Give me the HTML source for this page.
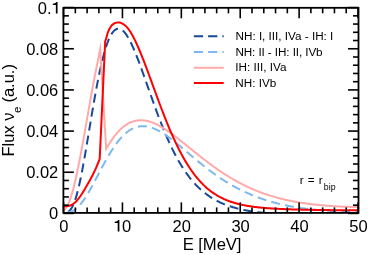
<!DOCTYPE html>
<html><head><meta charset="utf-8"><style>
html,body{margin:0;padding:0;background:#fff;}
svg{display:block;will-change:transform;font-family:"Liberation Sans",sans-serif;}
</style></head><body>
<svg width="368" height="255" viewBox="0 0 368 255">
<rect width="368" height="255" fill="#fff"/>
<defs><filter id="f" filterUnits="userSpaceOnUse" x="0" y="0" width="368" height="255" color-interpolation-filters="sRGB"><feOffset dx="0" dy="0"/></filter></defs>
<g filter="url(#f)">
<defs><clipPath id="c"><rect x="63.4" y="7.8" width="295.1" height="205.1"/></clipPath></defs>
<g clip-path="url(#c)" fill="none" stroke-width="2" stroke-linejoin="miter" stroke-miterlimit="10">
<path d="M63.31,212.50 L63.90,212.50 L64.49,212.49 L65.08,212.47 L65.68,212.43 L66.27,212.34 L66.86,212.21 L67.46,212.02 L68.05,211.75 L68.64,211.40 L69.24,210.95 L69.83,210.41 L70.42,209.75 L71.01,208.98 L71.61,208.09 L72.20,207.06 L72.79,205.91 L73.39,204.62 L73.98,203.20 L74.57,201.65 L75.16,199.95 L75.76,198.12 L76.35,196.16 L76.94,194.07 L77.54,191.85 L78.13,189.51 L78.72,187.04 L79.32,184.46 L79.91,181.78 L80.50,178.98 L81.09,176.09 L81.69,173.11 L82.28,170.03 L82.87,166.88 L83.47,163.66 L84.06,160.37 L84.65,157.02 L85.24,153.62 L85.84,150.17 L86.43,146.69 L87.02,143.17 L87.62,139.63 L88.21,136.07 L88.80,132.50 L89.39,128.93 L89.99,125.35 L90.58,121.79 L91.17,118.24 L91.77,114.70 L92.36,111.19 L92.95,107.72 L93.55,104.27 L94.14,100.87 L94.73,97.52 L95.32,94.21 L95.92,90.96 L96.51,87.77 L97.10,84.64 L97.70,81.57 L98.29,78.57 L98.88,75.65 L99.47,72.80 L100.07,70.03 L100.66,67.34 L101.25,64.73 L101.85,62.20 L102.44,59.77 L103.03,57.42 L103.63,55.16 L104.22,52.99 L104.81,50.91 L105.40,48.92 L106.00,47.03 L106.59,45.24 L107.18,43.53 L107.78,41.93 L108.37,40.42 L108.96,39.00 L109.55,37.69 L110.15,36.47 L110.74,35.35 L111.33,34.32 L111.93,33.39 L112.52,32.55 L113.11,31.80 L113.71,31.14 L114.30,30.57 L114.89,30.07 L115.48,29.66 L116.08,29.32 L116.67,29.06 L117.26,28.87 L117.86,28.75 L118.45,28.71 L119.04,28.73 L119.63,28.83 L120.23,28.99 L120.82,29.23 L121.41,29.54 L122.01,29.92 L122.60,30.37 L123.19,30.89 L123.78,31.47 L124.38,32.12 L124.97,32.82 L125.56,33.59 L126.16,34.41 L126.75,35.29 L127.34,36.21 L127.94,37.19 L128.53,38.22 L129.12,39.29 L129.71,40.40 L130.31,41.56 L130.90,42.75 L131.49,43.98 L132.09,45.25 L132.68,46.56 L133.27,47.90 L133.86,49.26 L134.46,50.66 L135.05,52.09 L135.64,53.54 L136.24,55.02 L136.83,56.52 L137.42,58.04 L138.02,59.58 L138.61,61.14 L139.20,62.72 L139.79,64.31 L140.39,65.92 L140.98,67.54 L141.57,69.18 L142.17,70.82 L142.76,72.48 L143.35,74.14 L143.94,75.81 L144.54,77.48 L145.13,79.16 L145.72,80.85 L146.32,82.53 L146.91,84.22 L147.50,85.91 L148.10,87.60 L148.69,89.29 L149.28,90.98 L149.87,92.66 L150.47,94.34 L151.06,96.02 L151.65,97.69 L152.25,99.35 L152.84,101.01 L153.43,102.66 L154.02,104.31 L154.62,105.94 L155.21,107.57 L155.80,109.19 L156.40,110.80 L156.99,112.39 L157.58,113.98 L158.17,115.55 L158.77,117.12 L159.36,118.67 L159.95,120.20 L160.55,121.73 L161.14,123.24 L161.73,124.74 L162.33,126.22 L162.92,127.69 L163.51,129.15 L164.10,130.59 L164.70,132.02 L165.29,133.43 L165.88,134.82 L166.48,136.20 L167.07,137.57 L167.66,138.91 L168.25,140.25 L168.85,141.56 L169.44,142.86 L170.03,144.15 L170.63,145.42 L171.22,146.67 L171.81,147.90 L172.41,149.12 L173.00,150.32 L173.59,151.51 L174.18,152.68 L174.78,153.83 L175.37,154.97 L175.96,156.09 L176.56,157.19 L177.15,158.28 L177.74,159.35 L178.33,160.41 L178.93,161.45 L179.52,162.47 L180.11,163.48 L180.71,164.47 L181.30,165.44 L181.89,166.40 L182.49,167.35 L183.08,168.28 L183.67,169.19 L184.26,170.09 L184.86,170.97 L185.45,171.84 L186.04,172.70 L186.64,173.53 L187.23,174.36 L187.82,175.17 L188.41,175.96 L189.01,176.75 L189.60,177.51 L190.19,178.27 L190.79,179.01 L191.38,179.74 L191.97,180.45 L192.56,181.15 L193.16,181.84 L193.75,182.51 L194.34,183.17 L194.94,183.82 L195.53,184.46 L196.12,185.09 L196.72,185.70 L197.31,186.30 L197.90,186.89 L198.49,187.47 L199.09,188.03 L199.68,188.59 L200.27,189.13 L200.87,189.67 L201.46,190.19 L202.05,190.70 L202.64,191.20 L203.24,191.69 L203.83,192.18 L204.42,192.65 L205.02,193.11 L205.61,193.58 L206.20,194.03 L206.80,194.48 L207.39,194.92 L207.98,195.35 L208.57,195.77 L209.17,196.18 L209.76,196.59 L210.35,196.98 L210.95,197.37 L211.54,197.75 L212.13,198.12 L212.72,198.49 L213.32,198.84 L213.91,199.19 L214.50,199.53 L215.10,199.87 L215.69,200.19 L216.28,200.51 L216.88,200.83 L217.47,201.13 L218.06,201.43 L218.65,201.73 L219.25,202.02 L219.84,202.30 L220.43,202.57 L221.03,202.84 L221.62,203.10 L222.21,203.36 L222.80,203.61 L223.40,203.86 L223.99,204.10 L224.58,204.34 L225.18,204.57 L225.77,204.79 L226.36,205.02 L226.96,205.23 L227.55,205.44 L228.14,205.65 L228.73,205.85 L229.33,206.05 L229.92,206.24 L230.51,206.44 L231.11,206.63 L231.70,206.82 L232.29,207.01 L232.88,207.19 L233.48,207.37 L234.07,207.55 L234.66,207.72 L235.26,207.89 L235.85,208.05 L236.44,208.21 L237.03,208.37 L237.63,208.52 L238.22,208.67 L238.81,208.82 L239.41,208.97 L240.00,209.11 L240.59,209.25 L241.19,209.38 L241.78,209.52 L242.37,209.65 L242.96,209.77 L243.56,209.90 L244.15,210.02 L244.74,210.14 L245.34,210.26 L245.93,210.38 L246.52,210.49 L247.11,210.60 L247.71,210.71 L248.30,210.81 L248.89,210.92 L249.49,211.02 L250.08,211.12 L250.67,211.22 L251.27,211.32 L251.86,211.41 L252.45,211.50 L253.04,211.59 L253.64,211.68 L254.23,211.77 L254.82,211.86 L255.42,211.93 L256.01,212.00 L256.60,212.07 L257.19,212.13 L257.79,212.20 L258.38,212.26 L258.97,212.32 L259.57,212.38 L260.16,212.44 L260.75,212.50 L261.35,212.55 L261.94,212.61 L262.53,212.66 L263.12,212.71 L263.72,212.76 L264.31,212.81 L264.90,212.86 L265.50,212.91 L266.09,212.96 L266.68,213.01 L267.27,213.05 L267.87,213.09 L268.46,213.14 L269.05,213.18 L269.65,213.22 L270.24,213.26 L270.83,213.30 L271.42,213.34 L272.02,213.38 L272.61,213.42 L273.20,213.45 L273.80,213.49 L274.39,213.52 L274.98,213.56 L275.58,213.59 L276.17,213.62 L276.76,213.66 L277.35,213.69 L277.95,213.72 L278.54,213.75 L279.13,213.78 L279.73,213.81 L280.32,213.83 L280.91,213.85 L281.50,213.87 L282.10,213.89 L282.69,213.91 L283.28,213.92 L283.88,213.94 L284.47,213.96 L285.06,213.97 L285.66,213.99 L286.25,214.00 L286.84,214.02 L287.43,214.03 L288.03,214.04 L288.62,214.06 L289.21,214.07 L289.81,214.08 L290.40,214.09 L290.99,214.10 L291.58,214.12 L292.18,214.13 L292.77,214.14 L293.36,214.15 L293.96,214.16 L294.55,214.17 L295.14,214.18 L295.74,214.19 L296.33,214.20 L296.92,214.21 L297.51,214.21 L298.11,214.22 L298.70,214.23 L299.29,214.24 L299.89,214.25 L300.48,214.25 L301.07,214.26 L301.66,214.27 L302.26,214.27 L302.85,214.28 L303.44,214.29 L304.04,214.29 L304.63,214.30 L305.22,214.31 L305.81,214.31 L306.41,214.32 L307.00,214.32 L307.59,214.33 L308.19,214.33 L308.78,214.34 L309.37,214.34 L309.97,214.35 L310.56,214.35 L311.15,214.36 L311.74,214.36 L312.34,214.36 L312.93,214.37 L313.52,214.37 L314.12,214.38 L314.71,214.38 L315.30,214.38 L315.89,214.39 L316.49,214.39 L317.08,214.39 L317.67,214.40 L318.27,214.40 L318.86,214.40 L319.45,214.41 L320.05,214.41 L320.64,214.41 L321.23,214.41 L321.82,214.42 L322.42,214.42 L323.01,214.42 L323.60,214.42 L324.20,214.43 L324.79,214.43 L325.38,214.43 L325.97,214.43 L326.57,214.43 L327.16,214.44 L327.75,214.44 L328.35,214.44 L328.94,214.44 L329.53,214.44 L330.13,214.45 L330.72,214.45 L331.31,214.45 L331.90,214.45 L332.50,214.45 L333.09,214.45 L333.68,214.45 L334.28,214.46 L334.87,214.46 L335.46,214.46 L336.05,214.46 L336.65,214.46 L337.24,214.46 L337.83,214.46 L338.43,214.46 L339.02,214.47 L339.61,214.47 L340.20,214.47 L340.80,214.47 L341.39,214.47 L341.98,214.47 L342.58,214.47 L343.17,214.47 L343.76,214.47 L344.36,214.47 L344.95,214.47 L345.54,214.48 L346.13,214.48 L346.73,214.48 L347.32,214.48 L347.91,214.48 L348.51,214.48 L349.10,214.48 L349.69,214.48 L350.28,214.48 L350.88,214.48 L351.47,214.48 L352.06,214.48 L352.66,214.48 L353.25,214.48 L353.84,214.48 L354.44,214.48 L355.03,214.49 L355.62,214.49 L356.21,214.49 L356.81,214.49 L357.40,214.49 L357.99,214.49 L358.59,214.49 L359.18,214.49" stroke="#18489a" stroke-dasharray="9 5.16" stroke-dashoffset="9.33"/>
<path d="M63.31,212.50 L63.90,212.50 L64.49,212.50 L65.08,212.49 L65.68,212.47 L66.27,212.44 L66.86,212.40 L67.46,212.34 L68.05,212.26 L68.64,212.16 L69.24,212.04 L69.83,211.89 L70.42,211.72 L71.01,211.52 L71.61,211.29 L72.20,211.04 L72.79,210.75 L73.39,210.44 L73.98,210.09 L74.57,209.71 L75.16,209.30 L75.76,208.86 L76.35,208.38 L76.94,207.88 L77.54,207.34 L78.13,206.77 L78.72,206.17 L79.32,205.55 L79.91,204.89 L80.50,204.20 L81.09,203.48 L81.69,202.74 L82.28,201.97 L82.87,201.17 L83.47,200.35 L84.06,199.50 L84.65,198.63 L85.24,197.73 L85.84,196.82 L86.43,195.88 L87.02,194.93 L87.62,193.95 L88.21,192.96 L88.80,191.95 L89.39,190.93 L89.99,189.89 L90.58,188.84 L91.17,187.77 L91.77,186.70 L92.36,185.61 L92.95,184.52 L93.55,183.41 L94.14,182.30 L94.73,181.19 L95.32,180.07 L95.92,178.94 L96.51,177.81 L97.10,176.68 L97.70,175.55 L98.29,174.42 L98.88,173.29 L99.47,172.16 L100.07,171.03 L100.66,169.90 L101.25,168.78 L101.85,167.67 L102.44,166.56 L103.03,165.45 L103.63,164.36 L104.22,163.27 L104.81,162.19 L105.40,161.11 L106.00,160.05 L106.59,159.00 L107.18,157.96 L107.78,156.93 L108.37,155.91 L108.96,154.91 L109.55,153.92 L110.15,152.94 L110.74,151.98 L111.33,151.03 L111.93,150.09 L112.52,149.18 L113.11,148.27 L113.71,147.38 L114.30,146.51 L114.89,145.66 L115.48,144.82 L116.08,144.00 L116.67,143.20 L117.26,142.41 L117.86,141.65 L118.45,140.90 L119.04,140.17 L119.63,139.46 L120.23,138.76 L120.82,138.09 L121.41,137.43 L122.01,136.79 L122.60,136.18 L123.19,135.58 L123.78,135.00 L124.38,134.44 L124.97,133.89 L125.56,133.37 L126.16,132.87 L126.75,132.38 L127.34,131.92 L127.94,131.47 L128.53,131.04 L129.12,130.64 L129.71,130.25 L130.31,129.88 L130.90,129.52 L131.49,129.19 L132.09,128.88 L132.68,128.58 L133.27,128.30 L133.86,128.04 L134.46,127.80 L135.05,127.57 L135.64,127.37 L136.24,127.18 L136.83,127.00 L137.42,126.85 L138.02,126.71 L138.61,126.59 L139.20,126.48 L139.79,126.39 L140.39,126.32 L140.98,126.26 L141.57,126.22 L142.17,126.20 L142.76,126.19 L143.35,126.19 L143.94,126.21 L144.54,126.25 L145.13,126.29 L145.72,126.36 L146.32,126.43 L146.91,126.52 L147.50,126.63 L148.10,126.74 L148.69,126.87 L149.28,127.02 L149.87,127.17 L150.47,127.34 L151.06,127.52 L151.65,127.71 L152.25,127.91 L152.84,128.13 L153.43,128.35 L154.02,128.59 L154.62,128.83 L155.21,129.09 L155.80,129.35 L156.40,129.63 L156.99,129.92 L157.58,130.21 L158.17,130.52 L158.77,130.83 L159.36,131.15 L159.95,131.48 L160.55,131.82 L161.14,132.16 L161.73,132.52 L162.33,132.88 L162.92,133.25 L163.51,133.62 L164.10,134.01 L164.70,134.40 L165.29,134.79 L165.88,135.19 L166.48,135.60 L167.07,136.01 L167.66,136.43 L168.25,136.86 L168.85,137.29 L169.44,137.72 L170.03,138.16 L170.63,138.60 L171.22,139.05 L171.81,139.51 L172.41,139.96 L173.00,140.42 L173.59,140.89 L174.18,141.35 L174.78,141.82 L175.37,142.30 L175.96,142.77 L176.56,143.25 L177.15,143.73 L177.74,144.22 L178.33,144.71 L178.93,145.19 L179.52,145.68 L180.11,146.18 L180.71,146.67 L181.30,147.17 L181.89,147.66 L182.49,148.16 L183.08,148.66 L183.67,149.16 L184.26,149.66 L184.86,150.17 L185.45,150.67 L186.04,151.17 L186.64,151.68 L187.23,152.18 L187.82,152.68 L188.41,153.19 L189.01,153.69 L189.60,154.20 L190.19,154.70 L190.79,155.20 L191.38,155.70 L191.97,156.21 L192.56,156.71 L193.16,157.21 L193.75,157.71 L194.34,158.20 L194.94,158.70 L195.53,159.20 L196.12,159.69 L196.72,160.18 L197.31,160.68 L197.90,161.17 L198.49,161.66 L199.09,162.14 L199.68,162.63 L200.27,163.11 L200.87,163.60 L201.46,164.08 L202.05,164.55 L202.64,165.03 L203.24,165.50 L203.83,165.98 L204.42,166.45 L205.02,166.91 L205.61,167.38 L206.20,167.84 L206.80,168.30 L207.39,168.76 L207.98,169.22 L208.57,169.67 L209.17,170.12 L209.76,170.57 L210.35,171.01 L210.95,171.46 L211.54,171.90 L212.13,172.33 L212.72,172.77 L213.32,173.20 L213.91,173.63 L214.50,174.06 L215.10,174.48 L215.69,174.90 L216.28,175.32 L216.88,175.73 L217.47,176.15 L218.06,176.56 L218.65,176.96 L219.25,177.36 L219.84,177.76 L220.43,178.16 L221.03,178.56 L221.62,178.95 L222.21,179.33 L222.80,179.72 L223.40,180.10 L223.99,180.48 L224.58,180.86 L225.18,181.23 L225.77,181.60 L226.36,181.96 L226.96,182.33 L227.55,182.69 L228.14,183.04 L228.73,183.40 L229.33,183.75 L229.92,184.10 L230.51,184.44 L231.11,184.78 L231.70,185.12 L232.29,185.46 L232.88,185.79 L233.48,186.12 L234.07,186.45 L234.66,186.77 L235.26,187.09 L235.85,187.41 L236.44,187.72 L237.03,188.03 L237.63,188.34 L238.22,188.64 L238.81,188.95 L239.41,189.24 L240.00,189.54 L240.59,189.83 L241.19,190.12 L241.78,190.41 L242.37,190.69 L242.96,190.98 L243.56,191.25 L244.15,191.53 L244.74,191.80 L245.34,192.08 L245.93,192.35 L246.52,192.63 L247.11,192.90 L247.71,193.17 L248.30,193.43 L248.89,193.69 L249.49,193.95 L250.08,194.21 L250.67,194.46 L251.27,194.72 L251.86,194.96 L252.45,195.21 L253.04,195.45 L253.64,195.70 L254.23,195.93 L254.82,196.17 L255.42,196.40 L256.01,196.63 L256.60,196.86 L257.19,197.09 L257.79,197.31 L258.38,197.53 L258.97,197.75 L259.57,197.96 L260.16,198.18 L260.75,198.39 L261.35,198.60 L261.94,198.80 L262.53,199.01 L263.12,199.21 L263.72,199.41 L264.31,199.60 L264.90,199.80 L265.50,199.99 L266.09,200.18 L266.68,200.37 L267.27,200.55 L267.87,200.74 L268.46,200.92 L269.05,201.10 L269.65,201.27 L270.24,201.45 L270.83,201.62 L271.42,201.79 L272.02,201.96 L272.61,202.13 L273.20,202.29 L273.80,202.46 L274.39,202.62 L274.98,202.78 L275.58,202.93 L276.17,203.09 L276.76,203.24 L277.35,203.39 L277.95,203.54 L278.54,203.69 L279.13,203.84 L279.73,203.98 L280.32,204.12 L280.91,204.27 L281.50,204.40 L282.10,204.54 L282.69,204.68 L283.28,204.81 L283.88,204.94 L284.47,205.07 L285.06,205.20 L285.66,205.33 L286.25,205.46 L286.84,205.58 L287.43,205.70 L288.03,205.82 L288.62,205.94 L289.21,206.06 L289.81,206.18 L290.40,206.29 L290.99,206.41 L291.58,206.52 L292.18,206.63 L292.77,206.74 L293.36,206.85 L293.96,206.96 L294.55,207.06 L295.14,207.16 L295.74,207.26 L296.33,207.35 L296.92,207.44 L297.51,207.53 L298.11,207.62 L298.70,207.71 L299.29,207.79 L299.89,207.88 L300.48,207.96 L301.07,208.04 L301.66,208.12 L302.26,208.20 L302.85,208.28 L303.44,208.36 L304.04,208.44 L304.63,208.51 L305.22,208.59 L305.81,208.66 L306.41,208.73 L307.00,208.80 L307.59,208.87 L308.19,208.94 L308.78,209.01 L309.37,209.08 L309.97,209.14 L310.56,209.21 L311.15,209.27 L311.74,209.34 L312.34,209.40 L312.93,209.46 L313.52,209.52 L314.12,209.58 L314.71,209.64 L315.30,209.70 L315.89,209.75 L316.49,209.81 L317.08,209.87 L317.67,209.92 L318.27,209.97 L318.86,210.03 L319.45,210.08 L320.05,210.13 L320.64,210.18 L321.23,210.23 L321.82,210.28 L322.42,210.33 L323.01,210.38 L323.60,210.42 L324.20,210.47 L324.79,210.52 L325.38,210.56 L325.97,210.60 L326.57,210.65 L327.16,210.69 L327.75,210.73 L328.35,210.77 L328.94,210.82 L329.53,210.86 L330.13,210.90 L330.72,210.93 L331.31,210.97 L331.90,211.01 L332.50,211.05 L333.09,211.08 L333.68,211.12 L334.28,211.16 L334.87,211.19 L335.46,211.23 L336.05,211.26 L336.65,211.29 L337.24,211.33 L337.83,211.36 L338.43,211.39 L339.02,211.42 L339.61,211.45 L340.20,211.48 L340.80,211.51 L341.39,211.54 L341.98,211.57 L342.58,211.60 L343.17,211.63 L343.76,211.66 L344.36,211.68 L344.95,211.71 L345.54,211.74 L346.13,211.76 L346.73,211.79 L347.32,211.81 L347.91,211.84 L348.51,211.86 L349.10,211.89 L349.69,211.91 L350.28,211.93 L350.88,211.96 L351.47,211.98 L352.06,212.00 L352.66,212.02 L353.25,212.04 L353.84,212.07 L354.44,212.09 L355.03,212.11 L355.62,212.13 L356.21,212.15 L356.81,212.17 L357.40,212.19 L357.99,212.20 L358.59,212.22 L359.18,212.24" stroke="#7db9ee" stroke-dasharray="9 5.165" stroke-dashoffset="9.075"/>
<path d="M63.30,209.94 L64.50,209.53 L66.50,207.42 L68.50,203.67 L70.40,198.72 L73.30,188.91 L76.30,176.31 L79.20,162.28 L82.20,146.36 L85.10,130.12 L88.10,112.95 L91.00,96.49 L94.00,80.13 L97.00,64.98 L100.20,49.10 L106.20,148.77 L107.05,147.32 L107.89,145.91 L108.74,144.54 L109.58,143.20 L110.43,141.90 L111.27,140.64 L112.12,139.41 L112.96,138.23 L113.81,137.08 L114.65,135.97 L115.50,134.90 L116.35,133.88 L117.19,132.89 L118.04,131.94 L118.88,131.03 L119.73,130.16 L120.57,129.33 L121.42,128.54 L122.26,127.78 L123.11,127.07 L123.96,126.39 L124.80,125.76 L125.65,125.16 L126.49,124.60 L127.34,124.07 L128.18,123.59 L129.03,123.13 L129.87,122.72 L130.72,122.34 L131.56,121.99 L132.41,121.68 L133.26,121.40 L134.10,121.16 L134.95,120.94 L135.79,120.76 L136.64,120.61 L137.48,120.50 L138.33,120.41 L139.17,120.35 L140.02,120.32 L140.86,120.30 L141.71,120.31 L142.56,120.34 L143.40,120.41 L144.25,120.49 L145.09,120.61 L145.94,120.74 L146.78,120.90 L147.63,121.09 L148.47,121.30 L149.32,121.52 L150.17,121.77 L151.01,122.04 L151.86,122.34 L152.70,122.65 L153.55,122.97 L154.39,123.32 L155.24,123.69 L156.08,124.09 L156.93,124.50 L157.77,124.94 L158.62,125.38 L159.47,125.84 L160.31,126.32 L161.16,126.81 L162.00,127.31 L162.85,127.82 L163.69,128.35 L164.54,128.89 L165.38,129.44 L166.23,130.00 L167.07,130.56 L167.92,131.14 L168.77,131.73 L169.61,132.33 L170.46,132.93 L171.30,133.55 L172.15,134.17 L172.99,134.79 L173.84,135.42 L174.68,136.06 L175.53,136.71 L176.38,137.36 L177.22,138.01 L178.07,138.67 L178.91,139.33 L179.76,140.00 L180.60,140.67 L181.45,141.34 L182.29,142.02 L183.14,142.70 L183.98,143.38 L184.83,144.06 L185.68,144.74 L186.52,145.43 L187.37,146.11 L188.21,146.80 L189.06,147.49 L189.90,148.17 L190.75,148.86 L191.59,149.54 L192.44,150.23 L193.28,150.91 L194.13,151.60 L194.98,152.28 L195.82,152.96 L196.67,153.64 L197.51,154.31 L198.36,154.99 L199.20,155.66 L200.05,156.33 L200.89,157.00 L201.74,157.66 L202.59,158.32 L203.43,158.98 L204.28,159.64 L205.12,160.29 L205.97,160.93 L206.81,161.58 L207.66,162.22 L208.50,162.86 L209.35,163.49 L210.19,164.12 L211.04,164.74 L211.89,165.36 L212.73,165.98 L213.58,166.59 L214.42,167.19 L215.27,167.79 L216.11,168.39 L216.96,168.98 L217.80,169.57 L218.65,170.15 L219.49,170.73 L220.34,171.30 L221.19,171.87 L222.03,172.43 L222.88,172.99 L223.72,173.54 L224.57,174.09 L225.41,174.63 L226.26,175.16 L227.10,175.69 L227.95,176.22 L228.80,176.74 L229.64,177.25 L230.49,177.76 L231.33,178.26 L232.18,178.76 L233.02,179.25 L233.87,179.74 L234.71,180.22 L235.56,180.69 L236.40,181.16 L237.25,181.63 L238.10,182.09 L238.94,182.54 L239.79,182.99 L240.63,183.43 L241.48,183.87 L242.32,184.30 L243.17,184.72 L244.01,185.14 L244.86,185.56 L245.71,185.97 L246.55,186.37 L247.40,186.77 L248.24,187.17 L249.09,187.56 L249.93,187.94 L250.78,188.32 L251.62,188.69 L252.47,189.06 L253.31,189.42 L254.16,189.78 L255.01,190.13 L255.85,190.48 L256.70,190.82 L257.54,191.16 L258.39,191.49 L259.23,191.82 L260.08,192.14 L260.92,192.46 L261.77,192.77 L262.61,193.08 L263.46,193.38 L264.31,193.68 L265.15,193.97 L266.00,194.26 L266.84,194.55 L267.69,194.83 L268.53,195.10 L269.38,195.37 L270.22,195.64 L271.07,195.90 L271.92,196.16 L272.76,196.41 L273.61,196.66 L274.45,196.91 L275.30,197.15 L276.14,197.39 L276.99,197.62 L277.83,197.85 L278.68,198.07 L279.52,198.30 L280.37,198.51 L281.22,198.73 L282.06,198.94 L282.91,199.14 L283.75,199.34 L284.60,199.54 L285.44,199.74 L286.29,199.93 L287.13,200.12 L287.98,200.30 L288.82,200.48 L289.67,200.66 L290.52,200.83 L291.36,201.01 L292.21,201.17 L293.05,201.34 L293.90,201.50 L294.74,201.66 L295.59,201.81 L296.43,201.96 L297.28,202.11 L298.13,202.26 L298.97,202.40 L299.82,202.54 L300.66,202.68 L301.51,202.81 L302.35,202.94 L303.20,203.07 L304.04,203.20 L304.89,203.32 L305.73,203.44 L306.58,203.56 L307.43,203.67 L308.27,203.79 L309.12,203.90 L309.96,204.01 L310.81,204.11 L311.65,204.22 L312.50,204.32 L313.34,204.41 L314.19,204.51 L315.03,204.61 L315.88,204.70 L316.73,204.79 L317.57,204.87 L318.42,204.96 L319.26,205.04 L320.11,205.12 L320.95,205.20 L321.80,205.28 L322.64,205.36 L323.49,205.43 L324.34,205.50 L325.18,205.57 L326.03,205.64 L326.87,205.71 L327.72,205.77 L328.56,205.83 L329.41,205.90 L330.25,205.96 L331.10,206.01 L331.94,206.07 L332.79,206.12 L333.64,206.18 L334.48,206.23 L335.33,206.28 L336.17,206.33 L337.02,206.38 L337.86,206.42 L338.71,206.47 L339.55,206.51 L340.40,206.55 L341.24,206.59 L342.09,206.63 L342.94,206.67 L343.78,206.70 L344.63,206.74 L345.47,206.77 L346.32,206.81 L347.16,206.84 L348.01,206.87 L348.85,206.90 L349.70,206.93 L350.55,206.95 L351.39,206.98 L352.24,207.01 L353.08,207.03 L353.93,207.05 L354.77,207.08 L355.62,207.10 L356.46,207.12 L357.31,207.14 L358.15,207.16 L359.00,207.17" stroke="#ffaaaa"/>
<path d="M63.30,206.20 L64.30,206.22 L65.30,206.22 L66.30,206.19 L67.30,206.11 L68.30,205.97 L69.30,205.75 L70.30,205.44 L71.30,205.01 L72.30,204.47 L73.30,203.82 L74.30,203.06 L75.30,202.19 L76.30,201.20 L77.30,200.11 L78.30,198.91 L79.30,197.61 L80.30,196.23 L81.30,194.78 L82.30,193.24 L83.30,191.65 L84.30,190.00 L85.30,188.31 L86.30,186.58 L87.30,184.82 L88.30,183.04 L89.30,181.26 L90.30,179.44 L91.30,177.59 L92.30,175.69 L93.30,173.72 L94.30,171.68 L95.30,169.55 L96.30,167.32 L97.30,164.97 L98.30,162.50 L99.30,159.89 L99.70,158.80 L105.20,41.21 L106.05,38.88 L106.63,36.71 L107.16,34.69 L107.74,32.82 L108.43,31.11 L109.11,29.55 L109.84,28.20 L110.57,27.00 L111.30,25.95 L112.09,25.05 L112.94,24.31 L113.79,23.72 L114.63,23.26 L115.59,22.89 L116.59,22.62 L117.59,22.49 L118.56,22.47 L119.48,22.56 L120.41,22.78 L121.33,23.11 L122.27,23.55 L123.24,24.08 L124.20,24.71 L125.17,25.45 L126.16,26.38 L127.15,27.42 L128.12,28.54 L128.97,29.71 L129.82,30.97 L130.66,32.31 L131.51,33.73 L132.36,35.23 L133.21,36.80 L134.06,38.43 L134.91,40.13 L135.76,41.90 L136.61,43.72 L137.46,45.59 L138.30,47.52 L139.15,49.49 L140.00,51.50 L140.85,53.57 L141.70,55.67 L142.55,57.80 L143.40,59.97 L144.25,62.16 L145.09,64.39 L145.94,66.63 L146.79,68.89 L147.64,71.17 L148.49,73.46 L149.34,75.77 L150.19,78.08 L151.04,80.40 L151.89,82.73 L152.73,85.06 L153.58,87.38 L154.43,89.71 L155.28,92.03 L156.13,94.35 L156.98,96.65 L157.83,98.95 L158.68,101.24 L159.53,103.51 L160.37,105.77 L161.22,108.01 L162.07,110.24 L162.92,112.44 L163.77,114.63 L164.62,116.79 L165.47,118.94 L166.32,121.06 L167.16,123.15 L168.01,125.22 L168.86,127.26 L169.71,129.28 L170.56,131.27 L171.41,133.23 L172.26,135.16 L173.11,137.06 L173.96,138.94 L174.80,140.78 L175.65,142.59 L176.50,144.37 L177.35,146.12 L178.20,147.84 L179.05,149.52 L179.90,151.18 L180.75,152.80 L181.59,154.39 L182.44,155.95 L183.29,157.48 L184.14,158.97 L184.99,160.43 L185.84,161.87 L186.69,163.27 L187.54,164.64 L188.39,165.97 L189.23,167.28 L190.08,168.56 L190.93,169.80 L191.78,171.02 L192.63,172.20 L193.48,173.36 L194.33,174.49 L195.18,175.59 L196.02,176.66 L196.87,177.70 L197.72,178.72 L198.57,179.70 L199.42,180.67 L200.27,181.60 L201.12,182.51 L201.97,183.40 L202.82,184.26 L203.66,185.09 L204.51,185.90 L205.36,186.69 L206.21,187.46 L207.06,188.20 L207.91,188.92 L208.76,189.62 L209.61,190.30 L210.45,190.95 L211.30,191.59 L212.15,192.21 L213.00,192.81 L213.85,193.39 L214.70,193.95 L215.55,194.49 L216.40,195.02 L217.25,195.53 L218.09,196.02 L218.94,196.50 L219.79,196.96 L220.64,197.41 L221.49,197.84 L222.34,198.26 L223.19,198.67 L224.04,199.06 L224.88,199.43 L225.73,199.80 L226.58,200.15 L227.43,200.49 L228.28,200.82 L229.13,201.14 L229.98,201.44 L230.83,201.74 L231.68,202.03 L232.52,202.30 L233.37,202.57 L234.22,202.83 L235.07,203.07 L235.92,203.31 L236.77,203.54 L237.62,203.77 L238.47,203.98 L239.32,204.19 L240.16,204.39 L241.01,204.58 L241.86,204.77 L242.71,204.95 L243.56,205.12 L244.41,205.29 L245.26,205.45 L246.11,205.61 L246.95,205.76 L247.80,205.90 L248.65,206.04 L249.50,206.18 L250.35,206.31 L251.20,206.44 L252.05,206.56 L252.90,206.67 L253.75,206.79 L254.59,206.90 L255.44,207.00 L256.29,207.10 L257.14,207.20 L257.99,207.30 L258.84,207.39 L259.69,207.48 L260.54,207.56 L261.38,207.65 L262.23,207.73 L263.08,207.80 L263.93,207.88 L264.78,207.95 L265.63,208.02 L266.48,208.09 L267.33,208.15 L268.18,208.21 L269.02,208.28 L269.87,208.34 L270.72,208.39 L271.57,208.45 L272.42,208.50 L273.27,208.55 L274.12,208.60 L274.97,208.65 L275.81,208.70 L276.66,208.75 L277.51,208.79 L278.36,208.83 L279.21,208.88 L280.06,208.92 L280.91,208.96 L281.76,209.00 L282.61,209.03 L283.45,209.07 L284.30,209.10 L285.15,209.14 L286.00,209.17 L286.85,209.20 L287.70,209.24 L288.55,209.27 L289.40,209.30 L290.24,209.33 L291.09,209.35 L291.94,209.38 L292.79,209.41 L293.64,209.44 L294.49,209.46 L295.34,209.49 L296.19,209.51 L297.04,209.53 L297.88,209.56 L298.73,209.58 L299.58,209.60 L300.43,209.62 L301.28,209.64 L302.13,209.66 L302.98,209.68 L303.83,209.70 L304.67,209.72 L305.52,209.74 L306.37,209.76 L307.22,209.78 L308.07,209.79 L308.92,209.81 L309.77,209.83 L310.62,209.84 L311.47,209.86 L312.31,209.87 L313.16,209.89 L314.01,209.90 L314.86,209.92 L315.71,209.93 L316.56,209.95 L317.41,209.96 L318.26,209.97 L319.11,209.99 L319.95,210.00 L320.80,210.01 L321.65,210.02 L322.50,210.03 L323.35,210.05 L324.20,210.06 L325.05,210.07 L325.90,210.08 L326.74,210.09 L327.59,210.10 L328.44,210.11 L329.29,210.12 L330.14,210.13 L330.99,210.14 L331.84,210.15 L332.69,210.16 L333.54,210.16 L334.38,210.17 L335.23,210.18 L336.08,210.19 L336.93,210.20 L337.78,210.21 L338.63,210.21 L339.48,210.22 L340.33,210.23 L341.17,210.24 L342.02,210.24 L342.87,210.25 L343.72,210.26 L344.57,210.26 L345.42,210.27 L346.27,210.28 L347.12,210.28 L347.97,210.29 L348.81,210.29 L349.66,210.30 L350.51,210.31 L351.36,210.31 L352.21,210.32 L353.06,210.32 L353.91,210.33 L354.76,210.33 L355.60,210.34 L356.45,210.34 L357.30,210.35 L358.15,210.35 L359.00,210.35" stroke="#ff0000"/>
</g>
<g stroke="#000" stroke-width="1.6"><line x1="63.55" y1="212.9" x2="63.55" y2="202.4"/><line x1="63.55" y1="7.8" x2="63.55" y2="18.3"/><line x1="75.33" y1="212.9" x2="75.33" y2="207.4"/><line x1="75.33" y1="7.8" x2="75.33" y2="13.3"/><line x1="87.11" y1="212.9" x2="87.11" y2="207.4"/><line x1="87.11" y1="7.8" x2="87.11" y2="13.3"/><line x1="98.88" y1="212.9" x2="98.88" y2="207.4"/><line x1="98.88" y1="7.8" x2="98.88" y2="13.3"/><line x1="110.66" y1="212.9" x2="110.66" y2="207.4"/><line x1="110.66" y1="7.8" x2="110.66" y2="13.3"/><line x1="122.44" y1="212.9" x2="122.44" y2="202.4"/><line x1="122.44" y1="7.8" x2="122.44" y2="18.3"/><line x1="134.22" y1="212.9" x2="134.22" y2="207.4"/><line x1="134.22" y1="7.8" x2="134.22" y2="13.3"/><line x1="146.00" y1="212.9" x2="146.00" y2="207.4"/><line x1="146.00" y1="7.8" x2="146.00" y2="13.3"/><line x1="157.77" y1="212.9" x2="157.77" y2="207.4"/><line x1="157.77" y1="7.8" x2="157.77" y2="13.3"/><line x1="169.55" y1="212.9" x2="169.55" y2="207.4"/><line x1="169.55" y1="7.8" x2="169.55" y2="13.3"/><line x1="181.33" y1="212.9" x2="181.33" y2="202.4"/><line x1="181.33" y1="7.8" x2="181.33" y2="18.3"/><line x1="193.11" y1="212.9" x2="193.11" y2="207.4"/><line x1="193.11" y1="7.8" x2="193.11" y2="13.3"/><line x1="204.89" y1="212.9" x2="204.89" y2="207.4"/><line x1="204.89" y1="7.8" x2="204.89" y2="13.3"/><line x1="216.66" y1="212.9" x2="216.66" y2="207.4"/><line x1="216.66" y1="7.8" x2="216.66" y2="13.3"/><line x1="228.44" y1="212.9" x2="228.44" y2="207.4"/><line x1="228.44" y1="7.8" x2="228.44" y2="13.3"/><line x1="240.22" y1="212.9" x2="240.22" y2="202.4"/><line x1="240.22" y1="7.8" x2="240.22" y2="18.3"/><line x1="252.00" y1="212.9" x2="252.00" y2="207.4"/><line x1="252.00" y1="7.8" x2="252.00" y2="13.3"/><line x1="263.78" y1="212.9" x2="263.78" y2="207.4"/><line x1="263.78" y1="7.8" x2="263.78" y2="13.3"/><line x1="275.55" y1="212.9" x2="275.55" y2="207.4"/><line x1="275.55" y1="7.8" x2="275.55" y2="13.3"/><line x1="287.33" y1="212.9" x2="287.33" y2="207.4"/><line x1="287.33" y1="7.8" x2="287.33" y2="13.3"/><line x1="299.11" y1="212.9" x2="299.11" y2="202.4"/><line x1="299.11" y1="7.8" x2="299.11" y2="18.3"/><line x1="310.89" y1="212.9" x2="310.89" y2="207.4"/><line x1="310.89" y1="7.8" x2="310.89" y2="13.3"/><line x1="322.67" y1="212.9" x2="322.67" y2="207.4"/><line x1="322.67" y1="7.8" x2="322.67" y2="13.3"/><line x1="334.44" y1="212.9" x2="334.44" y2="207.4"/><line x1="334.44" y1="7.8" x2="334.44" y2="13.3"/><line x1="346.22" y1="212.9" x2="346.22" y2="207.4"/><line x1="346.22" y1="7.8" x2="346.22" y2="13.3"/><line x1="358.00" y1="212.9" x2="358.00" y2="202.4"/><line x1="358.00" y1="7.8" x2="358.00" y2="18.3"/><line x1="63.4" y1="213.40" x2="73.9" y2="213.40"/><line x1="358.5" y1="213.40" x2="348.0" y2="213.40"/><line x1="63.4" y1="205.17" x2="68.9" y2="205.17"/><line x1="358.5" y1="205.17" x2="353.0" y2="205.17"/><line x1="63.4" y1="196.94" x2="68.9" y2="196.94"/><line x1="358.5" y1="196.94" x2="353.0" y2="196.94"/><line x1="63.4" y1="188.70" x2="68.9" y2="188.70"/><line x1="358.5" y1="188.70" x2="353.0" y2="188.70"/><line x1="63.4" y1="180.47" x2="68.9" y2="180.47"/><line x1="358.5" y1="180.47" x2="353.0" y2="180.47"/><line x1="63.4" y1="172.24" x2="73.9" y2="172.24"/><line x1="358.5" y1="172.24" x2="348.0" y2="172.24"/><line x1="63.4" y1="164.01" x2="68.9" y2="164.01"/><line x1="358.5" y1="164.01" x2="353.0" y2="164.01"/><line x1="63.4" y1="155.78" x2="68.9" y2="155.78"/><line x1="358.5" y1="155.78" x2="353.0" y2="155.78"/><line x1="63.4" y1="147.54" x2="68.9" y2="147.54"/><line x1="358.5" y1="147.54" x2="353.0" y2="147.54"/><line x1="63.4" y1="139.31" x2="68.9" y2="139.31"/><line x1="358.5" y1="139.31" x2="353.0" y2="139.31"/><line x1="63.4" y1="131.08" x2="73.9" y2="131.08"/><line x1="358.5" y1="131.08" x2="348.0" y2="131.08"/><line x1="63.4" y1="122.85" x2="68.9" y2="122.85"/><line x1="358.5" y1="122.85" x2="353.0" y2="122.85"/><line x1="63.4" y1="114.62" x2="68.9" y2="114.62"/><line x1="358.5" y1="114.62" x2="353.0" y2="114.62"/><line x1="63.4" y1="106.38" x2="68.9" y2="106.38"/><line x1="358.5" y1="106.38" x2="353.0" y2="106.38"/><line x1="63.4" y1="98.15" x2="68.9" y2="98.15"/><line x1="358.5" y1="98.15" x2="353.0" y2="98.15"/><line x1="63.4" y1="89.92" x2="73.9" y2="89.92"/><line x1="358.5" y1="89.92" x2="348.0" y2="89.92"/><line x1="63.4" y1="81.69" x2="68.9" y2="81.69"/><line x1="358.5" y1="81.69" x2="353.0" y2="81.69"/><line x1="63.4" y1="73.46" x2="68.9" y2="73.46"/><line x1="358.5" y1="73.46" x2="353.0" y2="73.46"/><line x1="63.4" y1="65.22" x2="68.9" y2="65.22"/><line x1="358.5" y1="65.22" x2="353.0" y2="65.22"/><line x1="63.4" y1="56.99" x2="68.9" y2="56.99"/><line x1="358.5" y1="56.99" x2="353.0" y2="56.99"/><line x1="63.4" y1="48.76" x2="73.9" y2="48.76"/><line x1="358.5" y1="48.76" x2="348.0" y2="48.76"/><line x1="63.4" y1="40.53" x2="68.9" y2="40.53"/><line x1="358.5" y1="40.53" x2="353.0" y2="40.53"/><line x1="63.4" y1="32.30" x2="68.9" y2="32.30"/><line x1="358.5" y1="32.30" x2="353.0" y2="32.30"/><line x1="63.4" y1="24.06" x2="68.9" y2="24.06"/><line x1="358.5" y1="24.06" x2="353.0" y2="24.06"/><line x1="63.4" y1="15.83" x2="68.9" y2="15.83"/><line x1="358.5" y1="15.83" x2="353.0" y2="15.83"/><line x1="63.4" y1="7.60" x2="73.9" y2="7.60"/><line x1="358.5" y1="7.60" x2="348.0" y2="7.60"/></g>
<rect x="63.4" y="7.8" width="295.1" height="205.1" fill="none" stroke="#000" stroke-width="1.8"/>
<g font-size="16.5" fill="#000"><text x="63.9" y="231.5" text-anchor="middle">0</text><text x="181.7" y="231.5" text-anchor="middle">20</text><text x="240.6" y="231.5" text-anchor="middle">30</text><text x="299.5" y="231.5" text-anchor="middle">40</text><text x="358.4" y="231.5" text-anchor="middle">50</text><text x="122.0" y="231.5">0</text><path d="M119.4,219.9 V231.5 H117.7 V222.9 H114.7 V221.7 C116.5,221.6 117.6,220.9 118.1,219.9 Z"/><text x="58.3" y="219.1" text-anchor="end">0</text><text x="58.3" y="177.9" text-anchor="end">0.02</text><text x="58.3" y="136.8" text-anchor="end">0.04</text><text x="58.3" y="95.6" text-anchor="end">0.06</text><text x="58.3" y="54.5" text-anchor="end">0.08</text><text x="37.8" y="13.6">0.</text><path d="M57.55,1.9 V13.6 H55.85 V4.9 H52.8 V3.7 C54.6,3.6 55.7,2.9 56.2,1.9 Z"/></g>
<text x="182.7" y="249.6" font-size="16.7" textLength="58.8">E [MeV]</text>
<text transform="translate(14.4,110.3) rotate(-90)" font-size="16.5" text-anchor="middle">Flux ν<tspan font-size="11.5" dy="6.2" dx="-0.4">e</tspan><tspan dy="-6.2" dx="-0.6"> (a.u.)</tspan></text>
<g fill="none" stroke-width="2">
<path d="M193.85,36.25H223.7" stroke="#18489a" stroke-dasharray="9.25 5"/>
<path d="M193.85,52.0H223.7" stroke="#7db9ee" stroke-dasharray="9.25 5"/>
<path d="M193.85,67.75H223.7" stroke="#ffaaaa"/>
<path d="M193.85,83.0H223.7" stroke="#ff0000"/>
</g>
<g font-size="11.7" fill="#000">
<text x="235.5" y="40">NH: I, III, IVa - IH: I</text>
<text x="235.4" y="55.6" textLength="87.2">NH: II - IH: II, IVb</text>
<text x="235.3" y="71.3">IH: III, IVa</text>
<text x="235.3" y="86.8">NH: IVb</text>
</g>
<text x="299.8" y="183.8" font-size="11.7">r<tspan dx="0.7"> = </tspan><tspan dx="0.9">r</tspan><tspan font-size="8.8" dy="6.2" dx="1.3">bip</tspan></text>
</g>
</svg>
</body></html>
